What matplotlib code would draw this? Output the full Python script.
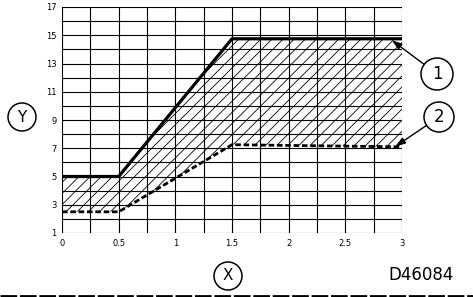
import matplotlib
matplotlib.use("Agg")
import matplotlib.pyplot as plt
from matplotlib.patches import Ellipse
import numpy as np

# Data
x_pts = [0, 0.5, 1.5, 3]
upper_limit = [5.0, 5.0, 14.75, 14.75]   # curve 1
lower_limit = [2.5, 2.5, 7.25, 7.1]      # curve 2
x_ticks = [0, 0.5, 1, 1.5, 2, 2.5, 3]
x_tick_labels = ["0", "0.5", "1", "1.5", "2", "2.5", "3"]
y_ticks = [1, 3, 5, 7, 9, 11, 13, 15, 17]
y_tick_labels = [str(v) for v in y_ticks]

W, H = 473, 297
plt.rcParams['hatch.linewidth'] = 0.6
fig = plt.figure(figsize=(W / 100, H / 100), dpi=100)
ax = fig.add_axes([62 / W, 64 / H, 340 / W, 226 / H])

ax.set_xlim(0, 3)
ax.set_ylim(1, 17)

# grid
for gx in np.arange(0, 3.001, 0.25):
    ax.axvline(gx, color='black', lw=0.8, zorder=1)
for gy in range(1, 18):
    ax.axhline(gy, color='black', lw=0.8, zorder=1)

ax.fill_between(x_pts, lower_limit, upper_limit, facecolor='none',
                edgecolor='black', hatch='///', lw=0, zorder=2)

ax.plot(x_pts, upper_limit, color='black', lw=2.3, solid_capstyle='butt', zorder=3)
ax.plot(x_pts, lower_limit, color='black', lw=2.0, ls=(0, (2, 1)), zorder=3)

for s in ax.spines.values():
    s.set_visible(False)
ax.tick_params(length=0, labelsize=6, pad=4)
ax.set_xticks(x_ticks)
ax.set_xticklabels(x_tick_labels)
ax.set_yticks(y_ticks)
ax.set_yticklabels(y_tick_labels)


def circ(cx, cy, r, label, fs=11):
    fig.patches.append(Ellipse((cx / W, cy / H), 2 * r / W, 2 * r / H,
                               transform=fig.transFigure, facecolor='white',
                               edgecolor='black', lw=1.1))
    fig.text(cx / W, cy / H, label, ha='center', va='center', fontsize=fs)


circ(22, 180, 14, "Y")
circ(228, 21, 14, "X")
circ(437, 223, 16, "1", 12)
circ(439, 180, 15, "2", 12)

ax.annotate("", xy=(2.91, 14.65), xycoords='data',
            xytext=(437, 223), textcoords='figure pixels',
            arrowprops=dict(arrowstyle='-|>,head_length=0.6,head_width=0.2',
                            color='black', lw=1, shrinkA=11.5, shrinkB=0))
ax.annotate("", xy=(2.94, 7.12), xycoords='data',
            xytext=(439, 180), textcoords='figure pixels',
            arrowprops=dict(arrowstyle='-|>,head_length=0.6,head_width=0.2',
                            color='black', lw=1, shrinkA=11, shrinkB=0))

fig.text(421 / W, 22 / H, "D46084", ha='center', va='center', fontsize=12)

fig.add_artist(plt.Line2D([0, 1], [1.5 / H, 1.5 / H], transform=fig.transFigure,
                          color='black', lw=2, ls=(0, (6, 1))))

fig.savefig("out.png", dpi=100)
